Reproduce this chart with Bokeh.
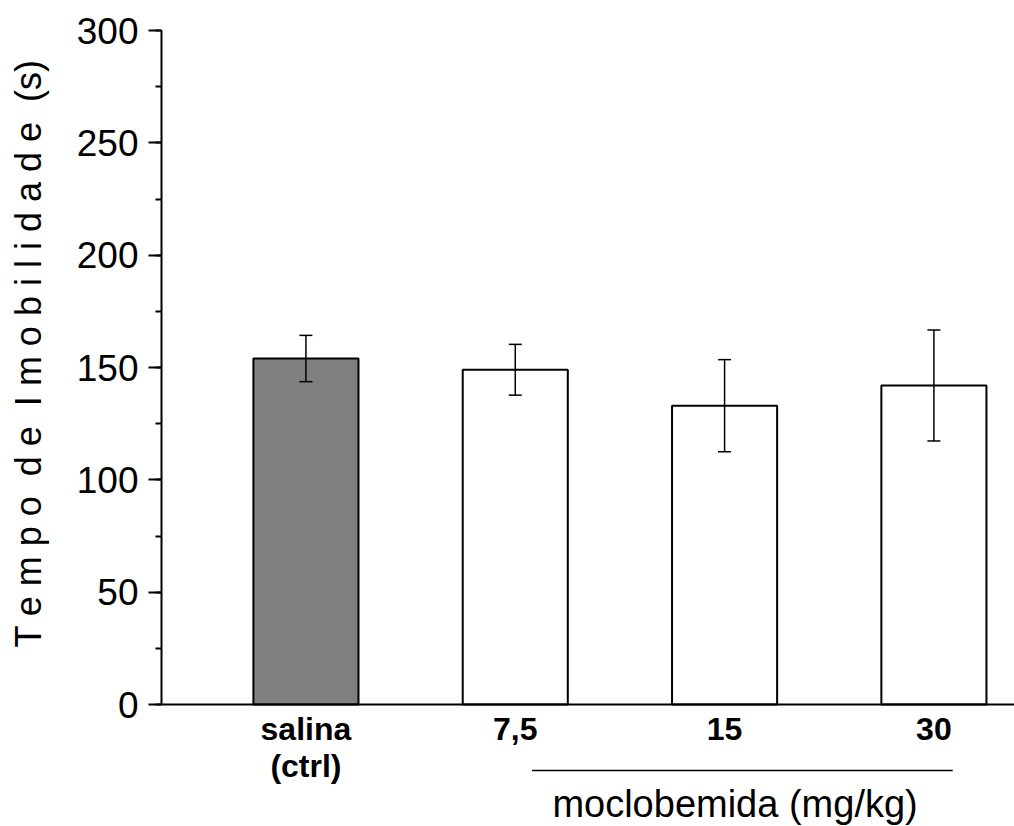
from bokeh.plotting import figure
from bokeh.models import (ColumnDataSource, SingleIntervalTicker, FixedTicker, Whisker,
                          TeeHead, Range1d)
from bokeh.core.properties import value
from bokeh.embed import file_html
from bokeh.resources import INLINE

# ---- data ----
groups = ["salina\n(ctrl)", "7,5", "15", "30"]
positions = [1, 2, 3, 4]
means = [154, 149, 133, 142]
sem = [10.3, 11.3, 20.5, 24.7]
fills = ["#808080", "#ffffff", "#ffffff", "#ffffff"]
group_label = ["moclobemida (mg/kg)"]
group_label_x = [3.05]
group_label_y = [-44.5]
drug_span = [2.08, 4.09]
bracket_y = [-29.4]
y_title = "T e m p o\u00a0 d e\u00a0 I m o b i l i d a d e\u00a0 (s)"

FONT = "Liberation Sans"

src = ColumnDataSource(dict(
    x=positions, top=means, fill=fills,
    upper=[m + s for m, s in zip(means, sem)],
    lower=[m - s for m, s in zip(means, sem)],
))

p = figure(width=1014, height=826, output_backend="svg", toolbar_location=None,
           x_range=Range1d(0.31, 4.385), y_range=Range1d(-54.3, 300),
           min_border_left=161, min_border_right=0, min_border_top=30,
           min_border_bottom=0)
p.outline_line_color = None
p.grid.visible = False
p.background_fill_color = "white"
p.border_fill_color = "white"

p.vbar(x="x", top="top", bottom=0, width=0.502, fill_color="fill",
       line_color="black", line_width=2, source=src)

w = Whisker(base="x", upper="upper", lower="lower", source=src,
            line_color="black", line_width=1.5, level="overlay",
            upper_head=TeeHead(size=13, line_color="black", line_width=1.5),
            lower_head=TeeHead(size=13, line_color="black", line_width=1.5))
p.add_layout(w)

# y axis (its line and ticks only cover 0..300; the frame also holds the x labels below)
ya = p.yaxis[0]
ya.ticker = SingleIntervalTicker(interval=50, num_minor_ticks=2)
ya.bounds = (0, 300)
ya.axis_line_width = 2
ya.major_tick_line_width = 2
ya.minor_tick_line_width = 2
ya.major_tick_out = 13
ya.major_tick_in = 0
ya.minor_tick_out = 6
ya.minor_tick_in = 0
ya.major_label_text_font = FONT
ya.major_label_text_font_size = "37px"
ya.major_label_text_color = "black"
ya.major_label_standoff = 10
# leading no-break spaces shift the centred title up to the middle of the 0..300 span
ya.axis_label = "\u00a0" * 15 + y_title
ya.axis_label_text_font = FONT
ya.axis_label_text_font_size = "36px"
ya.axis_label_text_font_style = "normal"
ya.axis_label_text_color = "black"
ya.axis_label_standoff = 25

# x axis at y = 0
xa = p.xaxis[0]
xa.fixed_location = 0
xa.ticker = FixedTicker(ticks=positions)
xa.major_label_overrides = {pos: g for pos, g in zip(positions, groups)}
xa.axis_line_width = 2
xa.major_tick_line_color = None
xa.major_tick_out = 0
xa.major_tick_in = 0
xa.minor_tick_line_color = None
xa.major_label_text_font = FONT
xa.major_label_text_font_size = "32px"
xa.major_label_text_font_style = "bold"
xa.major_label_text_color = "black"
xa.major_label_text_line_height = 1.05
xa.major_label_standoff = 6

# group bracket line and label
p.segment(x0=[drug_span[0]], x1=[drug_span[1]], y0=bracket_y, y1=bracket_y,
          line_color="black", line_width=1.5)
p.text(x=group_label_x, y=group_label_y, text=group_label,
       text_align="center", text_baseline="middle", text_font=value(FONT),
       text_font_size=value("38px"), text_color="black")

open("out.html", "w").write(file_html(p, INLINE))
